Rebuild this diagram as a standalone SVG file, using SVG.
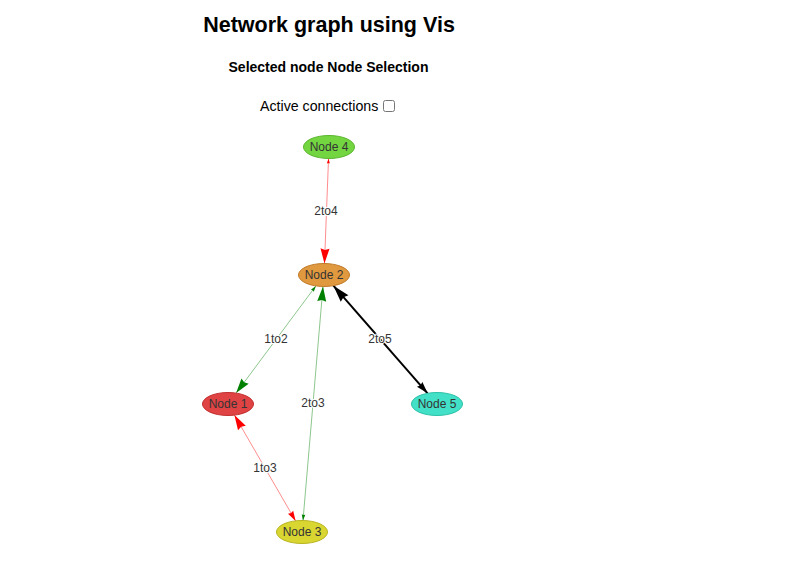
<svg xmlns="http://www.w3.org/2000/svg" xmlns:xlink="http://www.w3.org/1999/xlink" width="796" height="573" viewBox="0 0 796 573">
<style>
.title{font-family:"Liberation Sans",Arial,sans-serif;font-weight:bold;fill:#000}
.txt{font-family:"Liberation Sans",Arial,sans-serif;fill:#000}
.nl{font-family:"Liberation Sans",Arial,sans-serif;font-size:12px;fill:#343434;text-anchor:middle;dominant-baseline:central}
.el{font-family:"Liberation Sans",Arial,sans-serif;font-size:12px;fill:#343434;text-anchor:middle;dominant-baseline:central;stroke:#fff;stroke-width:2;paint-order:stroke;stroke-linejoin:round}
.node{stroke-width:1}
.red{stroke:#ff0000;stroke-opacity:0.45;stroke-width:1;fill:none}
.green{stroke:#008000;stroke-opacity:0.45;stroke-width:1;fill:none}
.black{stroke:#000;stroke-width:2;fill:none}
</style>
<defs>
<path id="ah" d="M0,0 L-1,0.3 L-0.9,0 L-1,-0.3 Z"/>
</defs>
<rect width="796" height="573" fill="#fff"/>
<text class="title" x="329" y="32" font-size="21.5" text-anchor="middle">Network graph using Vis</text>
<text class="title" x="328.5" y="72" font-size="14" text-anchor="middle">Selected node Node Selection</text>
<text class="txt" x="260" y="111" font-size="14.2">Active connections</text>
<rect x="383.5" y="100.5" width="11" height="11" rx="2" fill="#fff" stroke="#767676" stroke-width="1"/>
<g id="connectors">
<g id="e-2to4">
<line class="red" x1="328.55" y1="158.5" x2="324.45" y2="263.5"/>
<use xlink:href="#ah" href="#ah" fill="#ff0000" transform="translate(324.45,263.5) rotate(92.2) scale(15)"/>
<use xlink:href="#ah" href="#ah" fill="#ff0000" transform="translate(328.55,158.5) rotate(-87.8) scale(5)"/>
</g>
<g id="e-1to2">
<line class="green" x1="236.1" y1="393.1" x2="315.9" y2="285.9"/>
<use xlink:href="#ah" href="#ah" fill="#008000" transform="translate(236.1,393.1) rotate(126.66) scale(15)"/>
<use xlink:href="#ah" href="#ah" fill="#008000" transform="translate(315.9,285.9) rotate(-53.34) scale(6)"/>
</g>
<g id="e-2to3">
<line class="green" x1="303" y1="520.5" x2="323" y2="286.5"/>
<use xlink:href="#ah" href="#ah" fill="#008000" transform="translate(323,286.5) rotate(-85.1) scale(15)"/>
<use xlink:href="#ah" href="#ah" fill="#008000" transform="translate(303,520.5) rotate(94.9) scale(6)"/>
</g>
<g id="e-1to3">
<line class="red" x1="234.4" y1="415.1" x2="295.6" y2="520.9"/>
<use xlink:href="#ah" href="#ah" fill="#ff0000" transform="translate(234.4,415.1) rotate(-120.03) scale(15)"/>
<use xlink:href="#ah" href="#ah" fill="#ff0000" transform="translate(295.6,520.9) rotate(59.97) scale(10)"/>
</g>
<g id="e-2to5">
<line class="black" x1="333.4" y1="285.7" x2="427.6" y2="393.3"/>
<use xlink:href="#ah" href="#ah" fill="#000" transform="translate(333.4,285.7) rotate(-131.2) scale(17)"/>
<use xlink:href="#ah" href="#ah" fill="#000" transform="translate(427.6,393.3) rotate(48.8) scale(12)"/>
</g>
<text class="el" x="326" y="211">2to4</text>
<text class="el" x="276" y="339">1to2</text>
<text class="el" x="313" y="403">2to3</text>
<text class="el" x="265" y="468">1to3</text>
<text class="el" x="380" y="339">2to5</text>
</g>
<g id="node4">
<ellipse class="node" cx="329" cy="147" rx="25.5" ry="11.5" fill="#73d641" stroke="#5bb52e"/>
<text class="nl" x="329" y="147">Node 4</text>
</g>
<g id="node2">
<ellipse class="node" cx="324" cy="275" rx="25.5" ry="11.5" fill="#e0993f" stroke="#c07a2a"/>
<text class="nl" x="324" y="275">Node 2</text>
</g>
<g id="node1">
<ellipse class="node" cx="228" cy="404" rx="25.5" ry="11.5" fill="#e04343" stroke="#c23030"/>
<text class="nl" x="228" y="404">Node 1</text>
</g>
<g id="node5">
<ellipse class="node" cx="437" cy="404" rx="25.5" ry="11.5" fill="#43e0c8" stroke="#2bc0a8"/>
<text class="nl" x="437" y="404">Node 5</text>
</g>
<g id="node3">
<ellipse class="node" cx="302" cy="532" rx="25.5" ry="11.5" fill="#d9d632" stroke="#b8b420"/>
<text class="nl" x="302" y="532">Node 3</text>
</g>
</svg>
